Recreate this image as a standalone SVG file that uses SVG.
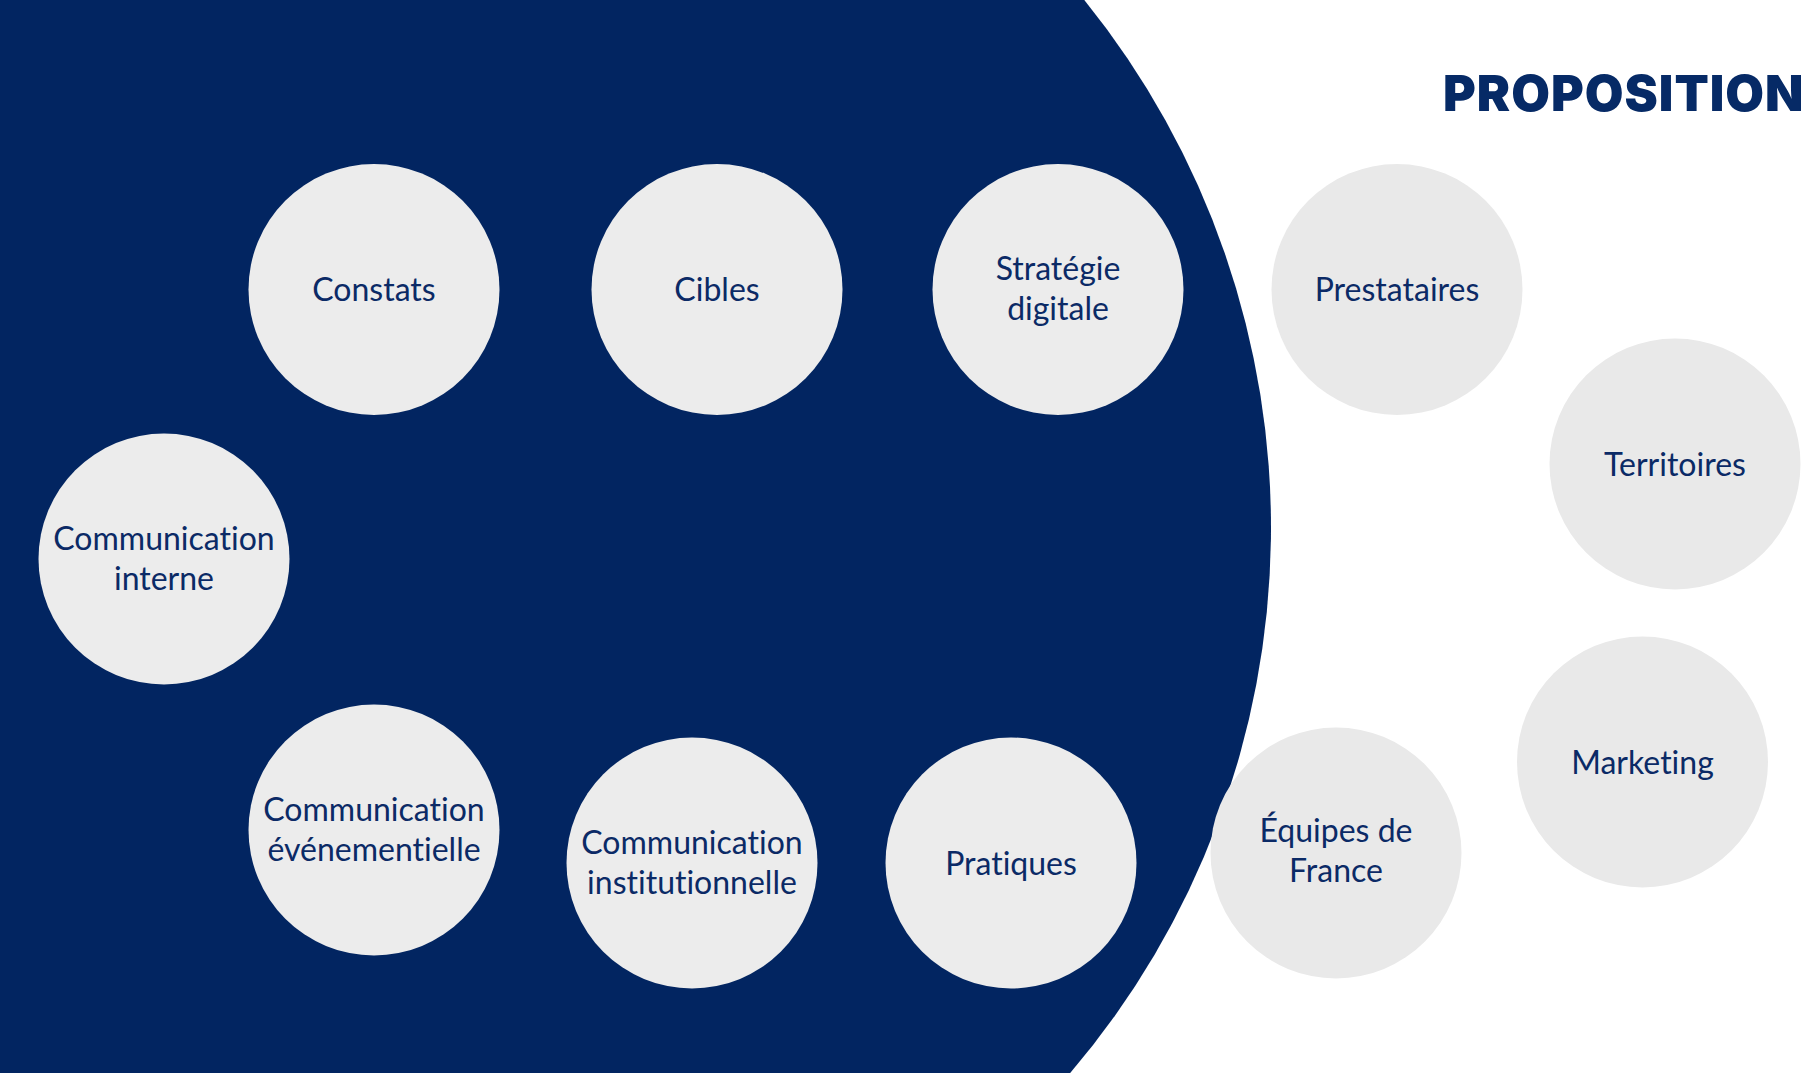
<svg xmlns="http://www.w3.org/2000/svg" width="1801" height="1073" viewBox="0 0 1801 1073">
<style>
.bg{fill:#ffffff}
.shape{fill:#022561}
.c{fill:#ececec}
.co{fill:#e9e9e9}
.t{font-family:Lato,"Open Sans","Liberation Sans",sans-serif;font-size:32px;fill:#0b2a66;text-anchor:middle;font-variant-ligatures:none}
.title{font-family:Inter,"Liberation Sans",sans-serif;font-size:50px;font-weight:900;fill:#062a66;letter-spacing:1px}
</style>
<rect class="bg" x="0" y="0" width="1801" height="1073"/>
<path class="shape" d="M0 0 H1084.3 A840 840 0 0 1 1070.2 1073 H0 Z"/>
<text class="title" x="1443" y="111">PROPOSITION</text>
<g id="connectors"></g>
<g id="constats"><circle class="c" cx="374" cy="289.5" r="125.5"/><text class="t" x="374" y="301">Constats</text></g>
<g id="cibles"><circle class="c" cx="717" cy="289.5" r="125.5"/><text class="t" x="717" y="301">Cibles</text></g>
<g id="strategie"><circle class="c" cx="1058" cy="289.5" r="125.5"/><text class="t" x="1058" y="280">Stratégie</text><text class="t" x="1058" y="320">digitale</text></g>
<g id="prestataires"><circle class="co" cx="1397" cy="289.5" r="125.5"/><text class="t" x="1397" y="301">Prestataires</text></g>
<g id="territoires"><circle class="co" cx="1675" cy="464" r="125.5"/><text class="t" x="1675" y="475.5">Territoires</text></g>
<g id="comm-interne"><circle class="c" cx="164" cy="559" r="125.5"/><text class="t" x="164" y="549.5">Communication</text><text class="t" x="164" y="589.5">interne</text></g>
<g id="comm-evenementielle"><circle class="c" cx="374" cy="830" r="125.5"/><text class="t" x="374" y="821">Communication</text><text class="t" x="374" y="861">événementielle</text></g>
<g id="comm-institutionnelle"><circle class="c" cx="692" cy="863" r="125.5"/><text class="t" x="692" y="853.5">Communication</text><text class="t" x="692" y="893.5">institutionnelle</text></g>
<g id="pratiques"><circle class="c" cx="1011" cy="863" r="125.5"/><text class="t" x="1011" y="874.5">Pratiques</text></g>
<g id="equipes"><circle class="co" cx="1336" cy="853" r="125.5"/><text class="t" x="1336" y="841.5">Équipes de</text><text class="t" x="1336" y="881.5">France</text></g>
<g id="marketing"><circle class="co" cx="1642.5" cy="762" r="125.5"/><text class="t" x="1642.5" y="773.5">Marketing</text></g>
</svg>
